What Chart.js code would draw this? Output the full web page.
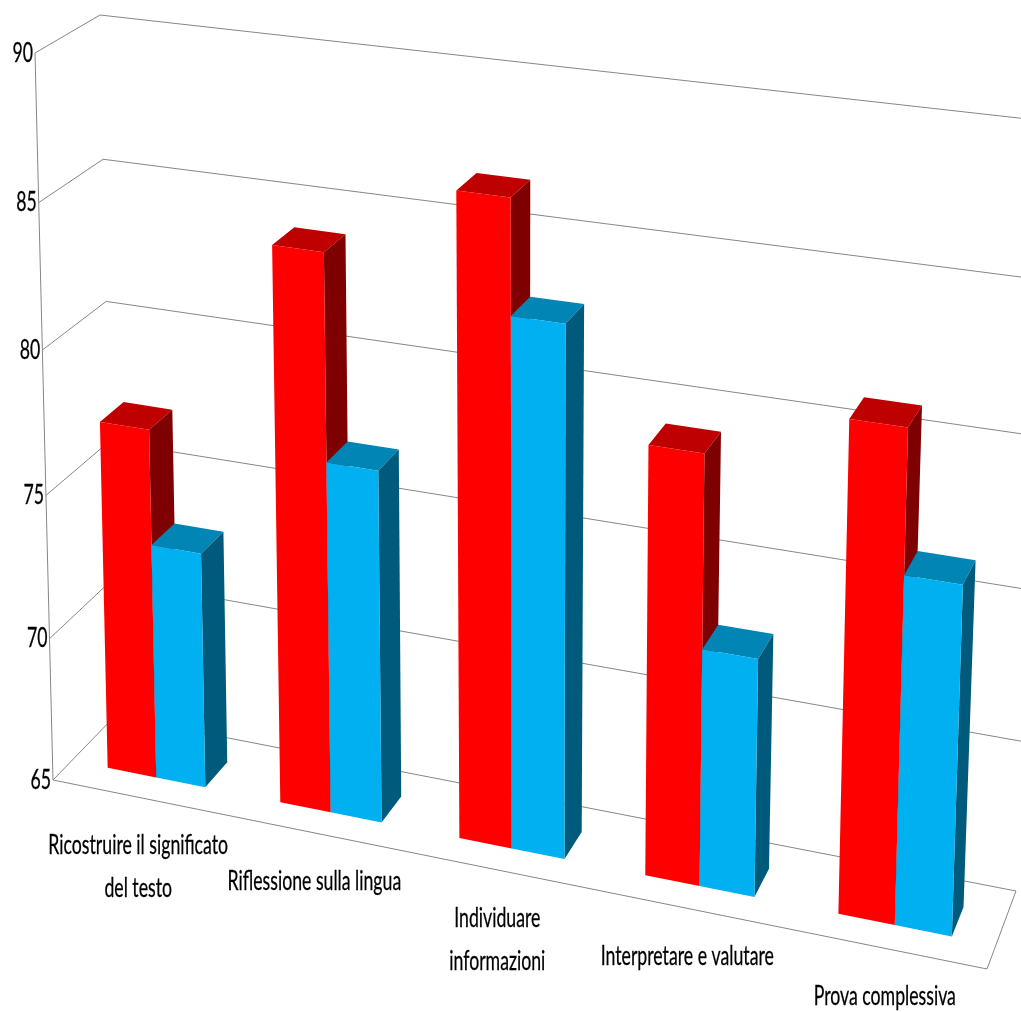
<!DOCTYPE html>
<html>
<head>
<meta charset="utf-8">
<title>Grafico</title>
<style>
  html, body { margin: 0; padding: 0; background: #fff; overflow: hidden; }
  canvas { display: block; }
</style>
</head>
<body>
<canvas id="chart" width="1021" height="1012"></canvas>
<script src="https://cdn.jsdelivr.net/npm/chart.js@4/dist/chart.umd.min.js"></script>
<script>
const categories = [
    ['Ricostruire il significato', 'del testo'],
    'Riflessione sulla lingua',
    ['Individuare', 'informazioni'],
    'Interpretare e valutare',
    'Prova complessiva'
];
const redValues = [77.2, 84.1, 86.7, 79.3, 81.1];
const blueValues = [73.2, 77.05, 82.85, 72.9, 76.4];
const yTicks = [65, 70, 75, 80, 85, 90];

// Corners of the floor and of the top of the box, as seen in the picture
const FLOOR = [[53, 780], [987, 969], [1016, 891], [115, 716]];
const ROOF = [[35, 53], [1013, 170], [1048, 121.3], [100, 15]];
const HEIGHT_BEND = 0.035; // upper levels are drawn a bit further apart
const ROOF_BULGE = 0.032;  // top of the bars sits a bit right of a straight perspective
const BAR_SHIFT = -0.0005;
const BAR_FRONT = 0.295;
const BAR_BACK = 0.675;
const GRID_COLOR = '#868686';
const FONT = '27px Lato';
const TEXT_SQUEEZE = 0.655;

// square -> quad homography
function quadMap(q) {
    const [x0, y0] = q[0], [x1, y1] = q[1], [x2, y2] = q[2], [x3, y3] = q[3];
    const sx = x0 - x1 + x2 - x3, sy = y0 - y1 + y2 - y3;
    const dx1 = x1 - x2, dx2 = x3 - x2, dy1 = y1 - y2, dy2 = y3 - y2;
    const det = dx1 * dy2 - dx2 * dy1;
    const g = (sx * dy2 - dx2 * sy) / det;
    const h = (dx1 * sy - sx * dy1) / det;
    const a = x1 - x0 + g * x1, b = x3 - x0 + h * x3;
    const d = y1 - y0 + g * y1, e = y3 - y0 + h * y3;
    return (u, w) => {
        const k = g * u + h * w + 1;
        return [(a * u + b * w + x0) / k, (d * u + e * w + y0) / k];
    };
}
const floorMap = quadMap(FLOOR);
const roofMap = quadMap(ROOF);

// u across the categories, v up the value axis, w into the depth
function project(u, v, w) {
    const p = floorMap(u, w), q = roofMap(u + ROOF_BULGE * u * (1 - u), w);
    const t = v * (1 - HEIGHT_BEND) / (1 - HEIGHT_BEND * v);
    return [p[0] + (q[0] - p[0]) * t, p[1] + (q[1] - p[1]) * t];
}

function line(ctx, points) {
    ctx.beginPath();
    points.forEach((p, i) => i ? ctx.lineTo(p[0], p[1]) : ctx.moveTo(p[0], p[1]));
    ctx.stroke();
}

function face(ctx, points, color) {
    ctx.fillStyle = color;
    ctx.beginPath();
    points.forEach((p, i) => i ? ctx.lineTo(p[0], p[1]) : ctx.moveTo(p[0], p[1]));
    ctx.closePath();
    ctx.fill();
}

function squeezedText(ctx, text, x, y, align) {
    ctx.save();
    ctx.translate(x, y);
    ctx.scale(TEXT_SQUEEZE, 1);
    ctx.textAlign = align;
    ctx.fillText(text, 0, 0);
    ctx.strokeText(text, 0, 0);
    ctx.restore();
}

function drawBar(ctx, area, el, colors) {
    const u0 = (el.x - el.width / 2 - area.left) / area.width + BAR_SHIFT;
    const u1 = (el.x + el.width / 2 - area.left) / area.width + BAR_SHIFT;
    // bars start from zero in the library, the box starts at the axis minimum
    const v0 = Math.max(0, (area.bottom - el.base) / area.height);
    const v1 = (area.bottom - el.y) / area.height;
    const w0 = BAR_FRONT, w1 = BAR_BACK;
    face(ctx, [project(u0, v1, w0), project(u1, v1, w0), project(u1, v1, w1), project(u0, v1, w1)], colors.top);
    face(ctx, [project(u1, v0, w0), project(u1, v1, w0), project(u1, v1, w1), project(u1, v0, w1)], colors.side);
    face(ctx, [project(u0, v0, w0), project(u1, v0, w0), project(u1, v1, w0), project(u0, v1, w0)], colors.front);
}

const box3d = {
    id: 'box3d',
    beforeDatasetsDraw(chart) {
        const { ctx, chartArea: area, scales: { x, y } } = chart;
        const vOf = value => (area.bottom - y.getPixelForValue(value)) / area.height;

        ctx.save();
        ctx.strokeStyle = GRID_COLOR;
        ctx.lineWidth = 1;
        y.ticks.forEach(t => {
            const v = vOf(t.value);
            line(ctx, [project(0, v, 0), project(0, v, 1), project(1, v, 1)]);
        });
        line(ctx, [project(0, 1, 0), project(0, 0, 0), project(1, 0, 0), project(1, 0, 1)]);

        ctx.fillStyle = '#000';
        ctx.strokeStyle = '#000';
        ctx.lineWidth = 0.3;
        ctx.font = FONT;
        ctx.textBaseline = 'middle';
        y.ticks.forEach(t => {
            const p = project(0, vOf(t.value), 0);
            squeezedText(ctx, String(t.value), p[0] - 2, p[1], 'right');
        });
        categories.forEach((label, i) => {
            const u = (x.getPixelForValue(i) - area.left) / area.width;
            const p = project(u, 0, 0);
            [].concat(label).forEach((text, n) => {
                squeezedText(ctx, text, p[0] - 0.5, p[1] + 48 + n * 43, 'center');
            });
        });

        const metas = chart.data.datasets.map((ds, i) => chart.getDatasetMeta(i));
        categories.forEach((label, i) => {
            metas.forEach((meta, k) => drawBar(ctx, area, meta.data[i], chart.data.datasets[k].faces));
        });
        ctx.restore();
        return false;
    }
};

new Chart(document.getElementById('chart'), {
    type: 'bar',
    data: {
        labels: categories,
        datasets: [
            { data: redValues, backgroundColor: '#FF0000', faces: { front: '#FF0000', side: '#7F0000', top: '#BF0000' } },
            { data: blueValues, backgroundColor: '#00B0F0', faces: { front: '#00B0F0', side: '#005A7C', top: '#0085B5' } }
        ]
    },
    options: {
        responsive: false,
        animation: false,
        events: [],
        categoryPercentage: 0.57,
        barPercentage: 1,
        layout: { padding: 0 },
        plugins: { legend: { display: false }, tooltip: { enabled: false } },
        scales: {
            x: { display: false },
            y: {
                display: false,
                min: yTicks[0],
                max: yTicks[yTicks.length - 1],
                ticks: { stepSize: yTicks[1] - yTicks[0] }
            }
        }
    },
    plugins: [box3d]
});
</script>
</body>
</html>
